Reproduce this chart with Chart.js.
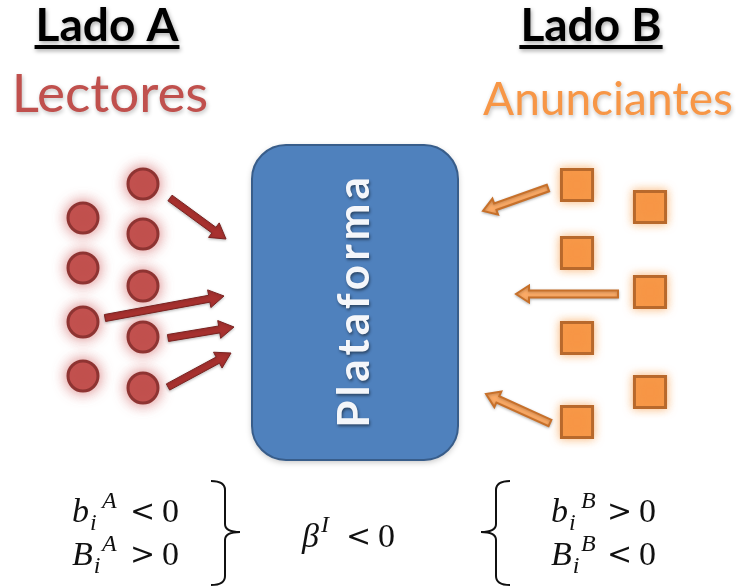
<!DOCTYPE html>
<html>
<head>
<meta charset="utf-8">
<script src="https://cdn.jsdelivr.net/npm/chart.js@4.4.1/dist/chart.umd.min.js"></script>
<style>
  html, body { margin: 0; padding: 0; background: #fff; }
  canvas { display: block; }
</style>
</head>
<body>
<canvas id="diagrama" width="740" height="588"></canvas>
<script>
// Lado A: lectores (círculos)
const lectoresX = [83, 83, 83, 83, 143, 143, 143, 143, 143];
const lectoresY = [218, 268, 322, 376, 184, 234, 286, 337, 388];

// Lado B: anunciantes (cuadrados)
const anunciantesX = [577, 577, 577, 577, 650, 650, 650];
const anunciantesY = [185, 253, 338, 422, 207, 292, 392];

// flechas hacia la plataforma (origen -> destino)
const flechasAx0 = [170, 105, 168, 168];
const flechasAy0 = [198, 318, 338, 387];
const flechasAx1 = [226, 224, 234, 231];
const flechasAy1 = [239, 296, 327, 353];

const flechasBx0 = [548, 618, 550];
const flechasBy0 = [188, 294, 423];
const flechasBx1 = [483, 516, 486];
const flechasBy1 = [211, 294, 394];

// plataforma: [x0, y0, x1, y1]
const plataforma = [252, 145, 458, 460];

// textos
const titulos = ['Lado A', 'Lado B'];
const grupos = ['Lectores', 'Anunciantes'];
const etiquetaCentro = 'Plataforma';
const condicionesA = [['b', 'A', '<', '0'], ['B', 'A', '>', '0']];
const condicionesB = [['b', 'B', '>', '0'], ['B', 'B', '<', '0']];
const condicionCentro = ['β', 'I', '<', '0'];

const rojo = '#C0504D';
const rojoOscuro = '#8E3432';
const naranja = '#F79646';
const naranjaOscuro = '#B8692C';
const azul = '#4F81BD';
const azulOscuro = '#385D8A';

function toPoints(xs, ys) {
    return xs.map((x, i) => ({ x: x, y: ys[i] }));
}

// dibuja una flecha como polígono
function flecha(ctx, x0, y0, x1, y1, w, hw, hl) {
    const dx = x1 - x0, dy = y1 - y0;
    const len = Math.hypot(dx, dy);
    const ux = dx / len, uy = dy / len;
    const nx = -uy, ny = ux;
    const bx = x1 - ux * hl, by = y1 - uy * hl;
    ctx.beginPath();
    ctx.moveTo(x0 + nx * w / 2, y0 + ny * w / 2);
    ctx.lineTo(bx + nx * w / 2, by + ny * w / 2);
    ctx.lineTo(bx + nx * hw / 2, by + ny * hw / 2);
    ctx.lineTo(x1, y1);
    ctx.lineTo(bx - nx * hw / 2, by - ny * hw / 2);
    ctx.lineTo(bx - nx * w / 2, by - ny * w / 2);
    ctx.lineTo(x0 - nx * w / 2, y0 - ny * w / 2);
    ctx.closePath();
}

// brillo alrededor de los puntos
const brilloPlugin = {
    id: 'brillo',
    beforeDatasetDraw(chart, args) {
        const ctx = chart.ctx;
        ctx.save();
        ctx.shadowColor = args.index === 0 ? 'rgba(205,90,90,0.75)' : 'rgba(247,160,80,0.7)';
        ctx.shadowBlur = args.index === 0 ? 14 : 10;
    },
    afterDatasetDraw(chart) {
        chart.ctx.restore();
    }
};

const fondoPlugin = {
    id: 'fondo',
    beforeDatasetsDraw(chart) {
        const ctx = chart.ctx;
        const sx = chart.scales.x, sy = chart.scales.y;
        const x0 = sx.getPixelForValue(plataforma[0]);
        const y0 = sy.getPixelForValue(plataforma[1]);
        const x1 = sx.getPixelForValue(plataforma[2]);
        const y1 = sy.getPixelForValue(plataforma[3]);
        ctx.save();
        ctx.shadowColor = 'rgba(0,0,0,0.25)';
        ctx.shadowBlur = 6;
        ctx.shadowOffsetY = 2;
        ctx.beginPath();
        ctx.roundRect(x0, y0, x1 - x0, y1 - y0, 34);
        ctx.fillStyle = azul;
        ctx.fill();
        ctx.shadowColor = 'transparent';
        ctx.lineWidth = 2;
        ctx.strokeStyle = azulOscuro;
        ctx.stroke();

        // texto vertical
        ctx.translate((x0 + x1) / 2, (y0 + y1) / 2);
        ctx.rotate(-Math.PI / 2);
        ctx.font = 'bold 44px Lato';
        ctx.letterSpacing = '4px';
        ctx.textAlign = 'center';
        ctx.textBaseline = 'middle';
        ctx.shadowColor = 'rgba(0,0,0,0.45)';
        ctx.shadowBlur = 3;
        ctx.shadowOffsetX = 1;
        ctx.shadowOffsetY = 2;
        ctx.fillStyle = '#F4F6FA';
        ctx.fillText(etiquetaCentro, 2, 0);
        ctx.restore();
    }
};

// letra con subíndice i y superíndice, luego relación y cero
function dibujaCondicion(ctx, x, base, c, relX) {
    ctx.textAlign = 'left';
    ctx.font = 'italic 34px "Liberation Serif"';
    ctx.fillText(c[0], x, base);
    const w = ctx.measureText(c[0]).width;
    ctx.font = 'italic 24px "Liberation Serif"';
    ctx.fillText('i', x + w + 1, base + 8);
    ctx.fillText(c[1], x + 30, base - 14);
    ctx.font = '30px "DejaVu Serif"';
    ctx.fillText(c[2], relX, base - 1);
    ctx.font = '34px "Liberation Serif"';
    ctx.fillText(c[3], relX + 32, base);
}

const textoPlugin = {
    id: 'textos',
    afterDatasetsDraw(chart) {
        const ctx = chart.ctx;
        const sx = chart.scales.x, sy = chart.scales.y;

        // flechas lado A
        ctx.save();
        ctx.shadowColor = 'rgba(0,0,0,0.25)';
        ctx.shadowBlur = 3;
        ctx.shadowOffsetY = 1;
        flechasAx0.forEach((v, i) => {
            flecha(ctx,
                sx.getPixelForValue(v), sy.getPixelForValue(flechasAy0[i]),
                sx.getPixelForValue(flechasAx1[i]), sy.getPixelForValue(flechasAy1[i]),
                7, 18, 15);
            ctx.fillStyle = '#A8312F';
            ctx.fill();
            ctx.lineWidth = 1;
            ctx.strokeStyle = '#7A2220';
            ctx.stroke();
        });
        // flechas lado B
        flechasBx0.forEach((v, i) => {
            flecha(ctx,
                sx.getPixelForValue(v), sy.getPixelForValue(flechasBy0[i]),
                sx.getPixelForValue(flechasBx1[i]), sy.getPixelForValue(flechasBy1[i]),
                7, 17, 13);
            ctx.fillStyle = '#FBAA66';
            ctx.fill();
            ctx.lineWidth = 2;
            ctx.strokeStyle = '#C7702A';
            ctx.stroke();
        });
        ctx.restore();

        // títulos
        ctx.save();
        ctx.textAlign = 'center';
        ctx.textBaseline = 'alphabetic';
        const centrosX = [107, 591];
        const centrosG = [110, 608];
        const tamG = [53, 46];
        const baseG = [112, 115];
        titulos.forEach((t, i) => {
            ctx.shadowColor = 'rgba(0,0,0,0.35)';
            ctx.shadowBlur = 4;
            ctx.shadowOffsetX = 1;
            ctx.shadowOffsetY = 2;
            ctx.font = 'bold 46px Lato';
            ctx.fillStyle = '#000';
            ctx.fillText(t, centrosX[i], 41);
            const w = ctx.measureText(t).width;
            ctx.fillRect(centrosX[i] - w / 2 - 1, 45, w + 2, 4);
            ctx.font = tamG[i] + 'px Lato';
            ctx.fillStyle = i === 0 ? rojo : naranja;
            ctx.shadowColor = 'rgba(0,0,0,0.25)';
            ctx.fillText(grupos[i], centrosG[i], baseG[i]);
        });
        ctx.restore();

        // condiciones
        ctx.save();
        ctx.fillStyle = '#111';
        ctx.textBaseline = 'alphabetic';
        condicionesA.forEach((c, i) => dibujaCondicion(ctx, 72, 522 + i * 43, c, 130));
        condicionesB.forEach((c, i) => dibujaCondicion(ctx, 551, 522 + i * 43, c, 607));
        ctx.font = 'italic 34px "Liberation Serif"';
        ctx.fillText(condicionCentro[0], 302, 547);
        ctx.font = 'italic 24px "Liberation Serif"';
        ctx.fillText(condicionCentro[1], 321, 532);
        ctx.font = '30px "DejaVu Serif"';
        ctx.fillText(condicionCentro[2], 346, 546);
        ctx.font = '34px "Liberation Serif"';
        ctx.fillText(condicionCentro[3], 378, 547);

        // llaves
        ctx.strokeStyle = '#111';
        ctx.lineWidth = 2;
        ctx.beginPath();
        ctx.moveTo(211, 481);
        ctx.quadraticCurveTo(225, 481, 225, 490);
        ctx.lineTo(225, 524);
        ctx.quadraticCurveTo(225, 532, 240, 532);
        ctx.quadraticCurveTo(225, 532, 225, 540);
        ctx.lineTo(225, 576);
        ctx.quadraticCurveTo(225, 585, 211, 585);
        ctx.stroke();
        ctx.beginPath();
        ctx.moveTo(510, 481);
        ctx.quadraticCurveTo(496, 481, 496, 490);
        ctx.lineTo(496, 524);
        ctx.quadraticCurveTo(496, 532, 481, 532);
        ctx.quadraticCurveTo(496, 532, 496, 540);
        ctx.lineTo(496, 576);
        ctx.quadraticCurveTo(496, 585, 510, 585);
        ctx.stroke();
        ctx.restore();
    }
};

new Chart(document.getElementById('diagrama'), {
    type: 'scatter',
    data: {
        datasets: [
            {
                label: 'Lectores',
                data: toPoints(lectoresX, lectoresY),
                pointStyle: 'circle',
                pointRadius: 15,
                backgroundColor: rojo,
                borderColor: rojoOscuro,
                borderWidth: 3
            },
            {
                label: 'Anunciantes',
                data: toPoints(anunciantesX, anunciantesY),
                pointStyle: 'rect',
                pointRadius: 22,
                backgroundColor: naranja,
                borderColor: naranjaOscuro,
                borderWidth: 3
            }
        ]
    },
    options: {
        responsive: false,
        devicePixelRatio: 1,
        animation: false,
        layout: { padding: 0, autoPadding: false },
        plugins: {
            legend: { display: false },
            tooltip: { enabled: false }
        },
        scales: {
            x: { type: 'linear', min: 0, max: 740, display: false },
            y: { type: 'linear', min: 0, max: 588, reverse: true, display: false }
        }
    },
    plugins: [brilloPlugin, fondoPlugin, textoPlugin]
});
</script>
</body>
</html>
